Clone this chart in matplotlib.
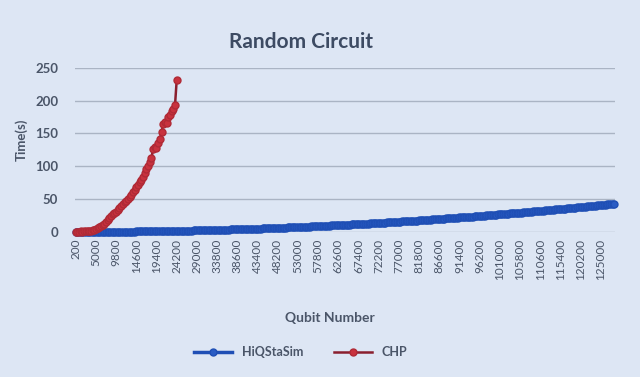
import matplotlib
matplotlib.use("Agg")
import matplotlib.pyplot as plt

# qubit counts on the category axis (200 .. 128200, step 400)
qubits = list(range(200, 128201, 400))

# HiQStaSim timings (s), one per qubit count
hiq_time = [
    0.0, 0.0, 0.0, 0.0, 0.0, 0.0, 0.0, 0.0, 0.1, 0.0, 0.1, 0.1,
    0.1, 0.1, 0.1, 0.1, 0.2, 0.1, 0.2, 0.2, 0.2, 0.2, 0.2, 0.3,
    0.3, 0.3, 0.3, 0.3, 0.4, 0.4, 0.4, 0.4, 0.5, 0.5, 0.5, 0.5,
    0.6, 0.6, 0.6, 0.7, 0.7, 0.7, 0.8, 0.8, 0.8, 0.9, 0.9, 1.0,
    1.0, 1.0, 1.1, 1.1, 1.2, 1.2, 1.3, 1.3, 1.3, 1.4, 1.4, 1.5,
    1.5, 1.6, 1.6, 1.7, 1.7, 1.8, 1.9, 1.9, 2.0, 2.0, 2.1, 2.1,
    2.2, 2.3, 2.3, 2.4, 2.5, 2.5, 2.6, 2.7, 2.7, 2.8, 2.9, 2.9,
    3.0, 3.1, 3.2, 3.2, 3.3, 3.4, 3.5, 3.5, 3.6, 3.7, 3.8, 3.8,
    3.9, 4.0, 4.1, 4.2, 4.3, 4.3, 4.4, 4.5, 4.6, 4.7, 4.8, 4.8,
    4.9, 5.0, 5.1, 5.2, 5.3, 5.4, 5.5, 5.6, 5.7, 5.8, 5.9, 6.0,
    6.1, 6.2, 6.3, 6.4, 6.5, 6.6, 6.7, 6.8, 6.9, 7.0, 7.1, 7.2,
    7.3, 7.5, 7.6, 7.7, 7.8, 7.9, 8.0, 8.1, 8.3, 8.4, 8.5, 8.6,
    8.7, 8.9, 9.0, 9.1, 9.2, 9.4, 9.5, 9.6, 9.8, 9.9, 10.0, 10.1,
    10.3, 10.4, 10.5, 10.7, 10.8, 10.9, 11.1, 11.2, 11.3, 11.5, 11.6, 11.7,
    11.9, 12.0, 12.2, 12.3, 12.4, 12.6, 12.7, 12.9, 13.0, 13.2, 13.3, 13.5,
    13.6, 13.8, 13.9, 14.1, 14.2, 14.4, 14.5, 14.7, 14.8, 15.0, 15.2, 15.3,
    15.5, 15.7, 15.8, 16.0, 16.1, 16.3, 16.5, 16.6, 16.8, 17.0, 17.2, 17.3,
    17.5, 17.7, 17.9, 18.0, 18.2, 18.4, 18.6, 18.7, 18.9, 19.1, 19.3, 19.4,
    19.6, 19.8, 20.0, 20.2, 20.4, 20.5, 20.7, 20.9, 21.1, 21.3, 21.5, 21.7,
    21.9, 22.0, 22.2, 22.4, 22.6, 22.8, 23.0, 23.2, 23.4, 23.6, 23.8, 24.0,
    24.2, 24.4, 24.6, 24.8, 25.0, 25.2, 25.4, 25.6, 25.8, 26.0, 26.3, 26.5,
    26.7, 26.9, 27.1, 27.3, 27.5, 27.7, 28.0, 28.2, 28.4, 28.6, 28.8, 29.1,
    29.3, 29.5, 29.7, 29.9, 30.2, 30.4, 30.6, 30.8, 31.1, 31.3, 31.5, 31.8,
    32.0, 32.2, 32.5, 32.7, 32.9, 33.2, 33.4, 33.6, 33.9, 34.1, 34.4, 34.6,
    34.8, 35.1, 35.3, 35.6, 35.8, 36.0, 36.3, 36.5, 36.8, 37.0, 37.3, 37.5,
    37.8, 38.0, 38.3, 38.5, 38.8, 39.0, 39.3, 39.6, 39.8, 40.1, 40.3, 40.6,
    40.9, 41.1, 41.4, 41.7, 41.9, 42.2, 42.5, 42.7, 43.0,
]

# CHP timings (s), only up to 24200 qubits
chp_time = [
    0.5, 0.3, 0.4, 0.6, 0.5, 0.8, 1.0, 1.2, 1.6, 2.0, 2.6, 3.2,
    4.5, 5.8, 7.0, 8.5, 10.2, 12.5, 15.0, 18.3, 21.0, 24.5, 27.0, 29.5,
    31.0, 33.8, 36.5, 39.0, 42.5, 45.0, 47.5, 50.2, 53.0, 56.5, 60.0, 64.0,
    68.5, 72.0, 76.0, 79.5, 84.0, 90.0, 95.5, 101.0, 106.0, 112.0, 127.0, 130.0,
    128.5, 136.0, 141.0, 152.0, 164.0, 168.0, 166.5, 175.0, 178.0, 184.0, 188.0, 193.0,
    231.0,
]

y_ticks = [0, 50, 100, 150, 200, 250]
label_step = 12

bg = "#dde6f4"
txt = "#4a5568"

plt.rcParams["font.family"] = ["Lato", "DejaVu Sans"]

fig = plt.figure(figsize=(6.4, 3.77), dpi=100, facecolor=bg)
ax = fig.add_axes([0.117, 0.385, 0.844, 0.435], facecolor=bg)

x_hiq = list(range(len(hiq_time)))
x_chp = list(range(len(chp_time)))

ax.plot(x_hiq, hiq_time, color="#1f4fb5", lw=2.5, marker="o", ms=5,
        mfc="#2a5cc4", mec="#1f4fb5", label="HiQStaSim", clip_on=False, zorder=3)
ax.plot(x_chp, chp_time, color="#8a1f2e", lw=1.8, marker="o", ms=5,
        mfc="#c8323e", mec="#b02a36", label="CHP", clip_on=False, zorder=4)

ax.set_ylim(0, 250)
ax.set_xlim(-0.5, len(qubits) - 0.5)
ax.set_yticks(y_ticks)
ax.set_yticklabels([str(v) for v in y_ticks], fontsize=9.5, color=txt,
                   fontweight="bold")
ax.grid(axis="y", color="#aab4c4", lw=1)
ax.set_axisbelow(True)

pos = list(range(0, len(qubits), label_step))
ax.set_xticks(pos)
ax.set_xticklabels([str(qubits[i]) for i in pos], rotation=90, fontsize=8.5,
                   color=txt)
ax.tick_params(length=0, pad=5)
ax.tick_params(axis="y", pad=12)

for s in ax.spines.values():
    s.set_visible(False)

fig.text(0.47, 0.889, "Random Circuit", ha="center", va="center",
         fontsize=15, color="#3d4b63", fontweight="bold")
fig.text(0.034, 0.63, "Time(s)", rotation=90, ha="center", va="center",
         fontsize=9.5, color=txt, fontweight="bold")
fig.text(0.516, 0.156, "Qubit Number", ha="center", va="center",
         fontsize=10, color=txt, fontweight="bold")

fig.legend(loc="center", bbox_to_anchor=(0.47, 0.066), ncol=2, frameon=False,
           prop={"size": 9, "weight": "bold"}, labelcolor=txt,
           handlelength=3, columnspacing=2.5)

fig.savefig("out.png", dpi=100, facecolor=bg)
